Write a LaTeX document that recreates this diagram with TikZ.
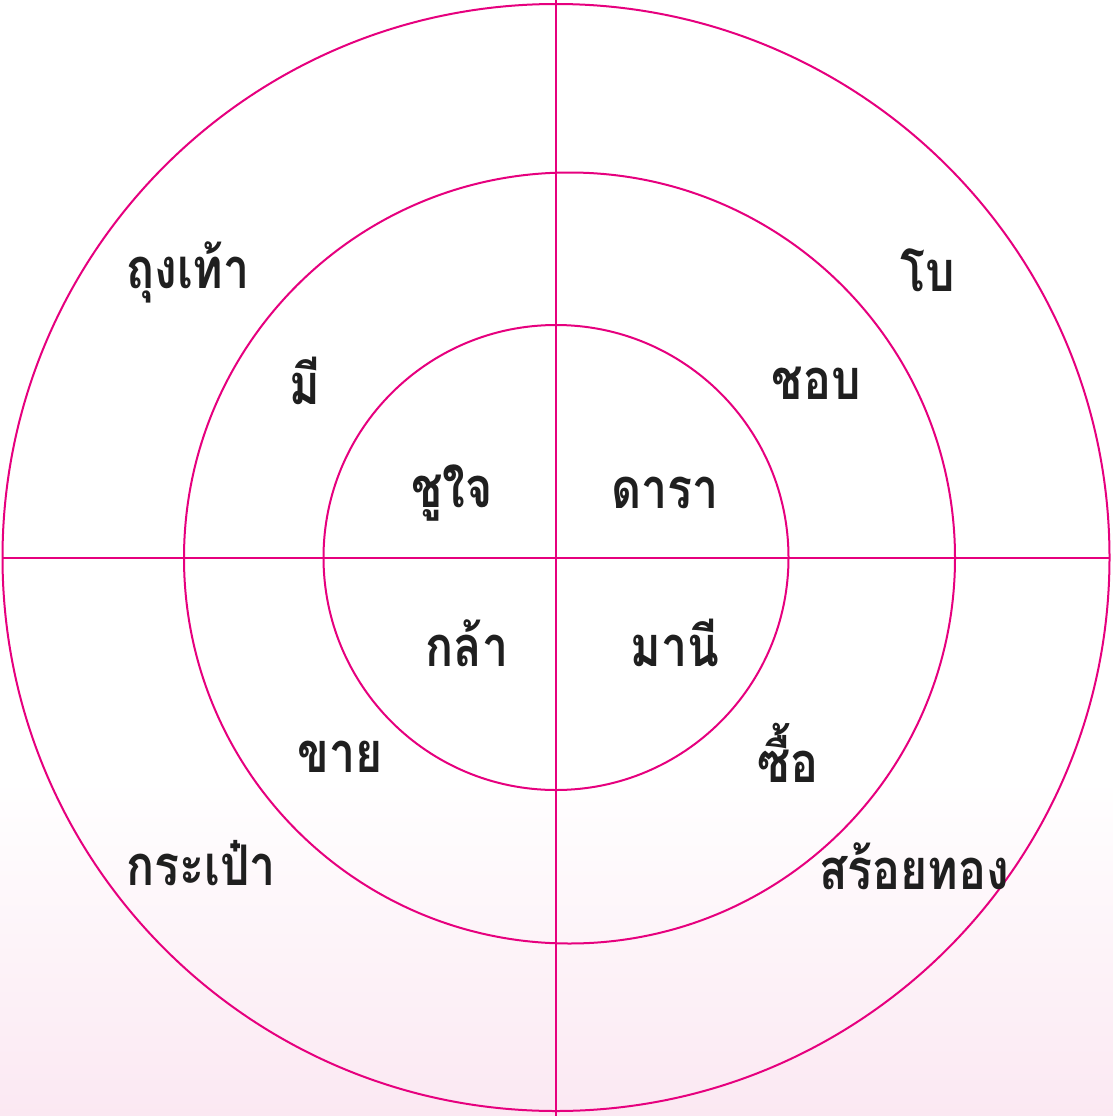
\documentclass[tikz,border=0pt]{standalone}
\usepackage{fontspec}
\newfontfamily\thaifont[Script=Thai]{Loma}
\definecolor{ring}{RGB}{230,0,126}
\definecolor{bgpink}{RGB}{251,232,242}
\begin{document}
\begin{tikzpicture}[x=1pt,y=-1pt,
  ringline/.style={draw=ring,line width=2pt},
  word/.style={font=\thaifont\bfseries\fontsize{56}{64}\selectfont,text=black!88,inner sep=0pt,xscale=0.83,transform shape}]
\useasboundingbox (0,0) rectangle (1113,1116);
\fill[white] (0,0) rectangle (1113,780);
\shade[top color=white,bottom color=bgpink] (0,780) rectangle (1113,1116);
\coordinate (c) at (556,557.5);
\coordinate (cm) at (569.5,558);
\draw[ringline] (c) circle[radius=553.5];
\draw[ringline] (cm) circle[radius=385.5];
\draw[ringline] (c) circle[radius=232.5];
\coordinate (top) at (556,0);
\coordinate (bot) at (556,1116);
\coordinate (lft) at (3,557.5);
\coordinate (rgt) at (1110,557.5);
\draw[ringline] (top) -- (bot);
\draw[ringline] (lft) -- (rgt);
\node[word] (w1) at (188,272) {ถุงเท้า};
\node[word] (w2) at (928,270) {โบ};
\node[word] (w3) at (305,381) {มี};
\node[word] (w4) at (816,383) {ชอบ};
\node[word] (w5) at (452,493) {ชูใจ};
\node[word] (w6) at (665,493) {ดารา};
\node[word] (w7) at (467,643) {กล้า};
\node[word] (w8) at (675,643) {มานี};
\node[word] (w9) at (340,757) {ขาย};
\node[word] (w10) at (788,753) {ซื้อ};
\node[word] (w11) at (201,863) {กระเป๋า};
\node[word] (w12) at (914,866) {สร้อยทอง};
\end{tikzpicture}
\end{document}
